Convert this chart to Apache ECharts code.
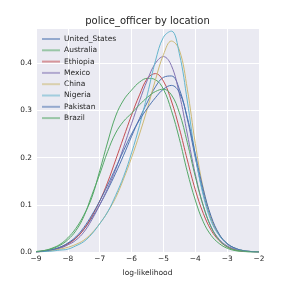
<!DOCTYPE html>
<html>
<head>
<meta charset="utf-8">
<script src="https://cdn.jsdelivr.net/npm/echarts@6/dist/echarts.min.js"></script>
<style>html,body{margin:0;padding:0;background:#fff}#c{width:288px;height:288px}</style>
</head>
<body>
<div id="c"></div>
<script>
const xs = [-9,-8.75,-8.5,-8.25,-8,-7.75,-7.5,-7.25,-7,-6.75,-6.5,-6.25,-6,-5.75,-5.5,-5.25,-5,-4.75,-4.5,-4.25,-4,-3.75,-3.5,-3.25,-3,-2.75,-2.5,-2.25,-2];
const names = ["United_States","Australia","Ethiopia","Mexico","China","Nigeria","Pakistan","Brazil"];
const unitedStates = [0.000,0.002,0.005,0.010,0.018,0.030,0.048,0.072,0.100,0.132,0.167,0.205,0.245,0.283,0.318,0.350,0.370,0.373,0.345,0.282,0.200,0.125,0.070,0.036,0.017,0.008,0.003,0.001,0.000];
const australia = [0.001,0.003,0.008,0.016,0.030,0.050,0.078,0.115,0.172,0.233,0.288,0.322,0.343,0.360,0.368,0.365,0.345,0.300,0.240,0.170,0.110,0.064,0.035,0.018,0.008,0.003,0.001,0.000,0.000];
const ethiopia = [0.000,0.002,0.004,0.009,0.017,0.029,0.048,0.075,0.108,0.148,0.195,0.243,0.290,0.333,0.368,0.378,0.362,0.320,0.262,0.195,0.132,0.082,0.046,0.024,0.011,0.005,0.002,0.001,0.000];
const mexico = [0.000,0.002,0.004,0.008,0.015,0.025,0.042,0.068,0.100,0.135,0.175,0.222,0.272,0.320,0.365,0.400,0.414,0.395,0.335,0.250,0.165,0.098,0.053,0.027,0.013,0.006,0.002,0.001,0.000];
const china = [0.000,0.001,0.003,0.006,0.010,0.016,0.025,0.040,0.060,0.085,0.115,0.155,0.200,0.250,0.305,0.365,0.418,0.447,0.428,0.345,0.230,0.135,0.072,0.037,0.018,0.008,0.003,0.001,0.000];
const nigeria = [0.000,0.001,0.002,0.004,0.006,0.013,0.022,0.038,0.060,0.085,0.120,0.160,0.210,0.268,0.335,0.405,0.455,0.468,0.420,0.320,0.205,0.120,0.065,0.035,0.018,0.008,0.003,0.001,0.000];
const pakistan = [0.000,0.002,0.005,0.010,0.019,0.032,0.052,0.078,0.108,0.142,0.178,0.215,0.250,0.280,0.305,0.327,0.345,0.353,0.338,0.285,0.208,0.133,0.075,0.038,0.018,0.008,0.003,0.001,0.000];
const brazil = [0.001,0.003,0.007,0.014,0.026,0.045,0.075,0.120,0.165,0.213,0.252,0.277,0.294,0.312,0.328,0.340,0.345,0.333,0.295,0.232,0.160,0.098,0.052,0.025,0.011,0.004,0.002,0.000,0.000];
const values = [unitedStates, australia, ethiopia, mexico, china, nigeria, pakistan, brazil];
const colors = ["#4C72B0","#55A868","#C44E52","#8172B2","#CCB974","#64B5CD","#4C72B0","#55A868"];
const xTicks = [-9,-8,-7,-6,-5,-4,-3,-2];
const yTicks = [0.0,0.1,0.2,0.3,0.4];

const chart = echarts.init(document.getElementById('c'), null, {renderer: 'canvas'});
const font = 'DejaVu Sans';
chart.setOption({
  animation: false,
  title: {
    text: 'police_officer by location',
    left: 147.5, textAlign: 'center', top: 16, padding: 0,
    textStyle: {fontFamily: font, fontSize: 10, fontWeight: 'normal', color: '#262626'}
  },
  legend: {
    orient: 'vertical', left: 42, top: 33.5, padding: 0,
    itemWidth: 18, itemHeight: 2, itemGap: 0.3, icon: 'rect',
    data: names.map((n, i) => ({name: n, itemStyle: {color: colors[i], opacity: 0.55}})),
    textStyle: {fontFamily: font, fontSize: 7.5, color: '#262626', lineHeight: 11, padding: [0,0,0,-1]}
  },
  grid: {left: 36, right: 29, top: 29, bottom: 36, show: true, backgroundColor: '#EAEAF2', borderWidth: 0},
  xAxis: {
    type: 'value', min: -9, max: -2, interval: 1,
    name: 'log-likelihood', nameLocation: 'middle', nameGap: 17,
    nameTextStyle: {fontFamily: font, fontSize: 7.5, color: '#262626'},
    axisLine: {show: false}, axisTick: {show: false},
    axisLabel: {margin: 4, fontFamily: font, fontSize: 7.4, color: '#262626',
      formatter: v => xTicks.includes(v) ? (v < 0 ? '\u2212' + Math.abs(v) : String(v)) : ''},
    splitLine: {show: true, lineStyle: {color: '#ffffff', width: 1}}
  },
  yAxis: {
    type: 'value', min: 0, max: 0.4725, interval: 0.1,
    axisLine: {show: false}, axisTick: {show: false},
    axisLabel: {margin: 4, fontFamily: font, fontSize: 7.4, color: '#262626', showMaxLabel: false,
      formatter: v => yTicks.some(t => Math.abs(t - v) < 1e-9) ? v.toFixed(1) : ''},
    splitLine: {show: true, lineStyle: {color: ['#ffffff','#ffffff','#ffffff','#ffffff','#ffffff','#EAEAF2'], width: 1}}
  },
  series: names.map((n, i) => ({
    name: n, type: 'line', smooth: 0.4, showSymbol: false, symbol: 'none',
    data: xs.map((x, j) => [x, values[i][j]]),
    lineStyle: {color: colors[i], width: 1},
    itemStyle: {color: colors[i]}
  }))
});
</script>
</body>
</html>
